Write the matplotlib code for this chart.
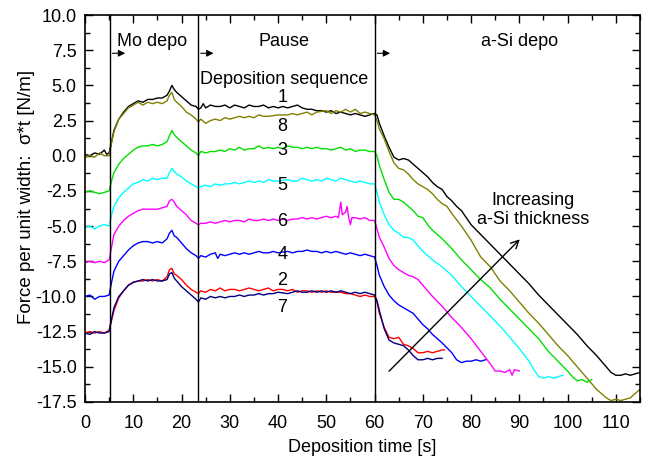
import matplotlib
matplotlib.use("Agg")
import matplotlib.pyplot as plt
from matplotlib.ticker import MultipleLocator, FormatStrFormatter

plt.rcParams['font.family'] = ['Liberation Sans', 'DejaVu Sans']

# curve 1 (black)
t1 = [0, 1, 2, 3, 4, 4.5, 5, 5.5, 6, 7, 8, 9, 10, 11, 12, 13, 14, 15, 16, 17, 17.5, 18, 18.5, 19, 20, 21, 22, 23, 23.5,
      24, 24.5, 25, 26, 27, 28, 29, 30, 31, 32, 33, 34, 35, 36, 37, 38, 39, 40, 41, 42, 43, 44, 45, 46, 47, 48, 49, 50,
      51, 52, 53, 54, 55, 56, 57, 58, 59, 60, 60.5, 61, 62, 63, 64, 65, 66, 67, 68, 69, 70, 71, 72, 73, 74, 75, 76, 77,
      78, 80, 82, 84, 86, 88, 90, 92, 94, 96, 98, 100, 102, 104, 106, 108, 109, 110, 111, 112, 113, 114, 115]
y1 = [0.1, 0.0, 0.2, 0.1, 0.4, 0.1, 0.2, 1.0, 1.8, 2.6, 3.1, 3.5, 3.7, 3.9, 3.8, 4.0, 4.0, 4.1, 4.1, 4.3, 4.6, 5.0, 4.7,
      4.5, 4.2, 3.9, 3.6, 3.5, 3.3, 3.4, 3.7, 3.4, 3.6, 3.5, 3.5, 3.6, 3.4, 3.6, 3.5, 3.4, 3.6, 3.5, 3.5, 3.6, 3.4, 3.5,
      3.4, 3.5, 3.4, 3.5, 3.6, 3.4, 3.3, 3.3, 3.2, 3.2, 3.1, 3.2, 3.0, 3.1, 3.0, 2.9, 3.0, 2.9, 2.8, 2.9, 3.0, 2.9, 2.3,
      1.4, 0.6, -0.1, -0.3, -0.2, -0.3, -0.6, -0.9, -1.2, -1.5, -1.9, -2.2, -2.4, -2.9, -3.2, -3.6, -3.9, -4.9, -5.6,
      -6.3, -7.0, -7.7, -8.4, -9.1, -9.9, -10.6, -11.3, -12.0, -12.7, -13.5, -14.2, -15.0, -15.4, -15.6, -15.6, -15.5,
      -15.6, -15.5, -15.4]

# curve 8 (olive)
t8 = [0, 1, 2, 3, 4, 5, 5.5, 6, 7, 8, 9, 10, 11, 12, 13, 14, 15, 16, 17, 17.5, 18, 18.5, 19, 20, 21, 22, 23, 23.5, 24,
      25, 26, 27, 28, 29, 30, 32, 33, 34, 35, 36, 37, 38, 40, 42, 43, 44, 46, 47, 48, 50, 51, 52, 53, 54, 55, 56, 57,
      58, 59, 60, 60.5, 61, 62, 63, 64, 65, 66, 67, 68, 69, 70, 71, 72, 73, 74, 75, 76, 78, 80, 82, 84, 86, 88, 90, 92,
      94, 96, 98, 100, 102, 104, 106, 108, 109, 110, 111, 112, 113, 114, 115]
y8 = [-0.1, 0.0, -0.1, 0.2, 0.0, 0.0, 0.9, 1.7, 2.6, 3.0, 3.4, 3.6, 3.8, 3.6, 3.8, 3.7, 3.8, 3.7, 3.9, 4.3, 4.5, 4.0,
      3.8, 3.5, 3.1, 2.9, 2.6, 2.4, 2.6, 2.3, 2.5, 2.6, 2.5, 2.7, 2.6, 2.8, 2.7, 2.8, 2.7, 2.9, 2.8, 2.8, 2.9, 2.9, 3.0,
      2.9, 3.1, 2.9, 3.1, 3.2, 3.0, 3.2, 3.1, 3.3, 3.1, 3.3, 3.0, 3.1, 3.0, 2.9, 2.5, 1.9, 1.2, 0.3, -0.5, -0.9, -1.0,
      -1.3, -1.7, -2.0, -2.2, -2.4, -2.7, -3.1, -3.4, -3.6, -4.1, -5.0, -6.0, -7.2, -7.9, -8.9, -9.6, -10.4, -11.2,
      -11.9, -12.7, -13.5, -14.2, -15.0, -15.8, -16.6, -17.2, -17.4, -17.3, -17.4, -17.3, -17.2, -16.9, -16.6]

# curve 3 (green)
t3 = [0, 1, 2, 3, 4, 5, 5.5, 6, 7, 8, 9, 10, 11, 12, 13, 14, 15, 16, 17, 17.5, 18, 18.5, 19, 20, 21, 22, 23, 23.5, 24,
      25, 26, 27, 28, 29, 30, 31, 32, 33, 34, 35, 36, 37, 38, 39, 40, 41, 42, 43, 44, 45, 46, 47, 48, 49, 50, 51, 52, 53,
      54, 55, 56, 57, 58, 59, 60, 60.5, 61, 62, 63, 64, 65, 66, 67, 68, 69, 70, 71, 72, 74, 76, 78, 80, 82, 84, 86, 88,
      90, 92, 94, 96, 98, 100, 101, 102, 103, 104, 105]
y3 = [-2.6, -2.5, -2.6, -2.7, -2.6, -2.5, -1.8, -1.2, -0.6, -0.2, 0.1, 0.4, 0.6, 0.7, 0.7, 0.8, 0.7, 0.8, 1.0, 1.4, 1.8,
      1.5, 1.3, 1.0, 0.7, 0.4, 0.2, 0.0, 0.3, 0.2, 0.3, 0.3, 0.4, 0.3, 0.5, 0.4, 0.6, 0.4, 0.5, 0.5, 0.7, 0.5, 0.6, 0.5,
      0.6, 0.5, 0.7, 0.6, 0.6, 0.5, 0.6, 0.5, 0.6, 0.5, 0.5, 0.4, 0.5, 0.6, 0.4, 0.5, 0.3, 0.4, 0.4, 0.3, 0.3, 0.0, -0.7,
      -1.7, -2.6, -3.1, -3.1, -3.3, -3.6, -3.9, -4.3, -4.4, -4.9, -5.3, -5.9, -6.6, -7.4, -8.1, -8.8, -9.4, -10.2,
      -10.9, -11.6, -12.3, -13.0, -13.9, -14.6, -15.3, -15.7, -16.0, -15.9, -16.1, -15.9]

# curve 5 (cyan)
t5 = [0, 1, 2, 3, 4, 5, 5.5, 6, 7, 8, 9, 10, 11, 12, 13, 14, 15, 16, 17, 17.5, 18, 18.5, 19, 20, 21, 22, 23, 23.5, 24,
      25, 26, 27, 28, 29, 30, 31, 32, 33, 34, 35, 36, 37, 38, 39, 40, 42, 43, 44, 45, 46, 47, 48, 49, 50, 51, 52, 53, 54,
      55, 56, 57, 58, 59, 60, 60.5, 61, 62, 63, 64, 65, 66, 67, 68, 69, 70, 72, 74, 76, 78, 80, 82, 84, 86, 88, 90, 92,
      93, 94, 95, 96, 97, 98, 99]
y5 = [-5.1, -5.0, -5.2, -5.0, -4.9, -5.0, -4.2, -3.6, -3.0, -2.6, -2.3, -2.0, -1.9, -1.7, -1.8, -1.6, -1.7, -1.6, -1.6,
      -1.2, -0.9, -1.1, -1.3, -1.5, -1.8, -2.0, -2.2, -2.3, -2.2, -2.1, -2.2, -2.0, -2.1, -2.0, -2.0, -1.9, -2.0, -1.9,
      -1.8, -1.9, -1.8, -1.9, -1.7, -1.8, -1.8, -1.7, -1.8, -1.8, -1.6, -1.7, -1.8, -1.7, -1.8, -1.6, -1.7, -1.8, -1.6,
      -1.7, -1.8, -1.9, -1.8, -1.9, -2.0, -2.0, -2.6, -3.3, -4.2, -4.9, -5.3, -5.5, -5.8, -5.8, -6.0, -6.4, -6.8, -7.4,
      -7.9, -8.5, -9.3, -10.0, -10.7, -11.4, -12.1, -12.9, -13.7, -14.6, -15.2, -15.7, -15.8, -15.7, -15.8, -15.7, -15.6]

# curve 6 (magenta)
t6 = [0, 1, 2, 3, 4, 5, 5.5, 6, 7, 8, 9, 10, 11, 12, 13, 14, 15, 16, 17, 17.5, 18, 18.5, 19, 20, 21, 22, 23, 23.5, 24,
      25, 26, 27, 28, 29, 30, 31, 32, 33, 34, 35, 36, 37, 38, 39, 40, 41, 42, 43, 44, 45, 46, 47, 48, 49, 50, 51, 52,
      52.5, 53, 53.3, 54, 54.3, 54.6, 55, 55.3, 56, 57, 58, 59, 60, 60.5, 61, 62, 63, 64, 65, 66, 67, 68, 69, 70, 72,
      74, 76, 78, 80, 82, 84, 85, 86, 87, 88, 88.5, 89, 90]
y6 = [-7.6, -7.5, -7.6, -7.5, -7.6, -7.4, -6.5, -5.6, -5.0, -4.6, -4.3, -4.1, -3.9, -3.8, -3.8, -3.8, -3.8, -3.7, -3.6,
      -3.2, -3.1, -3.3, -3.6, -3.9, -4.2, -4.6, -4.8, -4.9, -4.8, -4.8, -4.7, -4.8, -4.7, -4.6, -4.7, -4.6, -4.6, -4.7,
      -4.5, -4.6, -4.6, -4.5, -4.6, -4.5, -4.6, -4.5, -4.6, -4.5, -4.5, -4.4, -4.5, -4.4, -4.5, -4.4, -4.3, -4.4, -4.3,
      -4.4, -3.3, -4.2, -4.0, -3.6, -4.3, -4.9, -4.4, -4.4, -4.5, -4.4, -4.6, -4.6, -5.2, -5.8, -6.5, -7.3, -7.8, -8.1,
      -8.3, -8.5, -8.6, -8.8, -9.2, -10.0, -10.7, -11.5, -12.2, -13.0, -13.9, -14.8, -15.3, -15.3, -15.4, -15.2, -15.6,
      -15.2, -15.3]

# curve 4 (blue)
t4 = [0, 1, 2, 3, 4, 5, 5.5, 6, 7, 8, 9, 10, 11, 12, 13, 14, 15, 16, 17, 17.5, 18, 18.5, 19, 20, 21, 22, 23, 23.5, 24,
      25, 26, 27, 27.5, 28, 29, 30, 31, 32, 33, 34, 35, 36, 37, 38, 39, 40, 42, 43, 44, 45, 46, 47, 48, 49, 50, 51, 52,
      53, 54, 55, 56, 57, 58, 59, 60, 60.5, 61, 62, 63, 64, 65, 66, 67, 68, 69, 70, 71, 72, 74, 76, 77, 78, 79, 80, 81,
      82, 83]
y4 = [-10.0, -9.9, -10.2, -10.0, -10.0, -9.9, -9.0, -8.2, -7.5, -7.1, -6.7, -6.4, -6.2, -6.1, -6.1, -6.2, -6.1, -6.2,
      -5.9, -5.5, -5.3, -5.7, -5.8, -6.2, -6.6, -6.9, -7.1, -7.3, -7.1, -7.2, -7.0, -6.9, -7.3, -7.0, -7.1, -7.0, -6.9,
      -7.0, -6.9, -7.0, -6.9, -6.8, -6.9, -6.9, -6.8, -6.9, -6.8, -6.9, -6.8, -6.8, -6.7, -6.8, -6.8, -6.9, -6.8, -6.9,
      -6.8, -6.9, -7.0, -6.9, -7.0, -7.1, -7.0, -7.1, -7.2, -7.8, -8.5, -9.3, -9.9, -10.3, -10.6, -10.8, -11.0, -11.2,
      -11.6, -12.0, -12.3, -12.7, -13.3, -14.0, -14.5, -14.7, -14.6, -14.6, -14.5, -14.6, -14.5]

# curve 2 (red)
t2 = [0, 1, 2, 3, 4, 5, 5.5, 6, 7, 8, 9, 10, 11, 12, 13, 14, 15, 16, 17, 17.5, 18, 18.5, 19, 20, 21, 22, 23, 23.5, 24,
      25, 26, 27, 28, 29, 30, 31, 32, 33, 34, 35, 36, 37, 38, 39, 40, 41, 42, 43, 44, 45, 46, 47, 48, 49, 50, 51, 52, 53,
      54, 55, 56, 57, 58, 59, 60, 60.5, 61, 62, 63, 64, 65, 66, 67, 68, 69, 70, 71, 72, 73, 74, 74.5]
y2 = [-12.6, -12.5, -12.6, -12.5, -12.6, -12.4, -11.7, -11.0, -10.1, -9.6, -9.2, -9.0, -8.9, -8.9, -8.8, -8.9, -8.8,
      -8.9, -8.6, -8.1, -8.0, -8.4, -8.5, -8.8, -9.2, -9.5, -9.7, -9.8, -9.6, -9.7, -9.5, -9.6, -9.4, -9.6, -9.5, -9.5,
      -9.6, -9.5, -9.4, -9.5, -9.6, -9.5, -9.4, -9.6, -9.5, -9.5, -9.6, -9.5, -9.7, -9.6, -9.6, -9.7, -9.6, -9.7, -9.6,
      -9.7, -9.7, -9.7, -9.8, -9.8, -9.9, -10.0, -9.9, -10.0, -10.0, -10.4, -11.2, -12.2, -12.9, -13.0, -12.9, -13.4,
      -13.5, -13.7, -14.0, -14.0, -13.9, -14.0, -13.9, -13.8, -13.8]

# curve 7 (navy)
t7 = [0, 1, 2, 3, 4, 5, 5.5, 6, 7, 8, 9, 10, 11, 12, 13, 14, 15, 16, 17, 17.5, 18, 18.5, 19, 20, 21, 22, 23, 23.5, 24,
      25, 26, 27, 28, 29, 30, 31, 32, 33, 34, 35, 36, 37, 38, 39, 40, 42, 43, 44, 45, 46, 47, 48, 49, 50, 51, 52, 53, 54,
      55, 56, 57, 58, 59, 60, 60.5, 61, 62, 63, 64, 65, 66, 67, 68, 69, 70, 71, 72, 73, 74]
y7 = [-12.6, -12.7, -12.5, -12.6, -12.6, -12.5, -11.6, -10.8, -10.0, -9.6, -9.2, -9.0, -8.9, -8.8, -8.9, -8.8, -8.9,
      -8.9, -8.8, -8.4, -8.3, -8.7, -8.9, -9.3, -9.6, -9.9, -10.2, -10.4, -10.1, -10.2, -10.0, -10.1, -10.0, -10.1, -10.0,
      -10.0, -9.9, -10.0, -9.9, -9.9, -9.8, -9.9, -9.8, -9.8, -9.7, -9.8, -9.7, -9.6, -9.7, -9.7, -9.6, -9.7, -9.6, -9.7,
      -9.6, -9.7, -9.6, -9.7, -9.8, -9.7, -9.8, -9.7, -9.8, -9.9, -10.3, -11.0, -12.3, -13.1, -13.3, -13.4, -13.5, -13.8,
      -14.2, -14.5, -14.5, -14.4, -14.5, -14.4, -14.4]

curves = [(t1, y1, '#000000'), (t8, y8, '#808000'), (t3, y3, '#00e000'), (t5, y5, '#00ffff'),
          (t6, y6, '#ff00ff'), (t4, y4, '#0000ff'), (t2, y2, '#ff0000'), (t7, y7, '#000080')]

seq_labels = ['1', '8', '3', '5', '6', '4', '2', '7']
seq_y = [4.15, 2.1, 0.4, -2.1, -4.7, -7.05, -8.9, -10.8]

phase_edges = [5.1, 23.4, 60]

fig = plt.figure(figsize=(6.48, 4.59), dpi=100)
ax = fig.add_axes([85 / 648, 57 / 459, 555 / 648, 387 / 459])

for t, y, c in curves:
    ax.plot(t, y, color=c, lw=1.0)

for xe in phase_edges:
    ax.axvline(xe, color='black', lw=1.0)
    ax.annotate('', xy=(xe + 3.8, 7.28), xytext=(xe, 7.28),
                arrowprops=dict(arrowstyle='-|>', color='black', lw=0.8, mutation_scale=10))

fs = 13
ax.text(13.9, 8.15, 'Mo depo', ha='center', va='center', fontsize=fs)
ax.text(41.2, 8.15, 'Pause', ha='center', va='center', fontsize=fs)
ax.text(90.0, 8.15, 'a-Si depo', ha='center', va='center', fontsize=fs)
ax.text(41.3, 5.42, 'Deposition sequence', ha='center', va='center', fontsize=fs)
for lab, yy in zip(seq_labels, seq_y):
    ax.text(40.9, yy, lab, ha='center', va='center', fontsize=fs)

ax.text(92.8, -3.85, 'Increasing\na-Si thickness', ha='center', va='center', fontsize=fs, linespacing=1.15)
ax.annotate('', xy=(90.5, -5.8), xytext=(62.6, -15.45),
            arrowprops=dict(arrowstyle='->', color='black', lw=1.0, mutation_scale=14))

ax.set_xlim(0, 115)
ax.set_ylim(-17.5, 10.0)
ax.xaxis.set_major_locator(MultipleLocator(10))
ax.xaxis.set_minor_locator(MultipleLocator(5))
ax.yaxis.set_major_locator(MultipleLocator(2.5))
ax.yaxis.set_minor_locator(MultipleLocator(1.25))
ax.yaxis.set_major_formatter(FormatStrFormatter('%.1f'))
ax.tick_params(which='both', direction='in', top=True, right=True, labelsize=fs, width=1.0)
ax.tick_params(which='major', length=6)
ax.tick_params(which='minor', length=3.5)
ax.tick_params(axis='y', pad=6)
ax.tick_params(axis='x', pad=9.5)
for s in ax.spines.values():
    s.set_linewidth(1.2)

ax.set_xlabel('Deposition time [s]', fontsize=fs, labelpad=5)
ax.set_ylabel('Force per unit width:  σ*t [N/m]', fontsize=13.5)
ax.yaxis.set_label_coords(-0.09, 0.53)

fig.savefig('out.png', dpi=100)
